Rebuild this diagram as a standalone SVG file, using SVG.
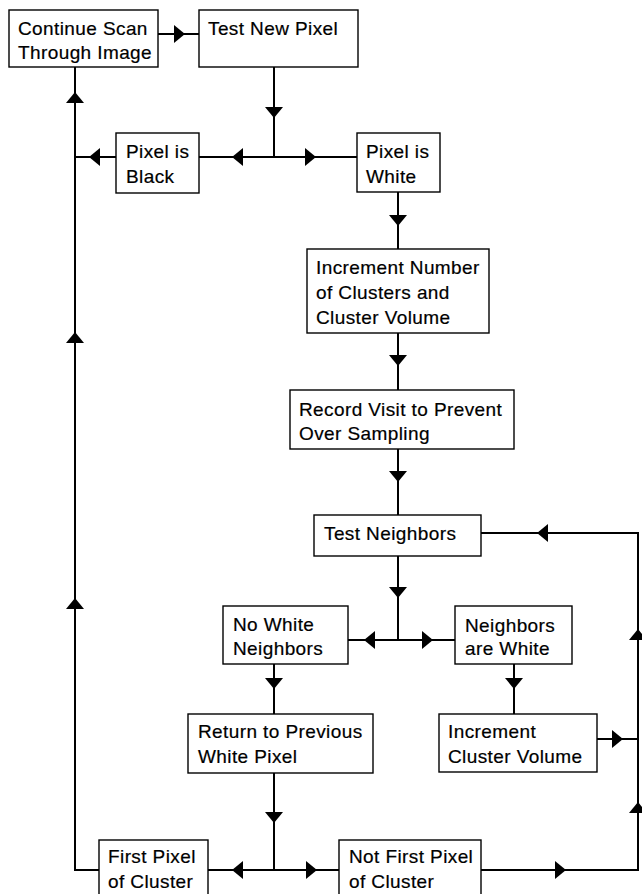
<svg xmlns="http://www.w3.org/2000/svg" width="642" height="894" viewBox="0 0 642 894">
<style>
.box{fill:#fff;stroke:#000;stroke-width:1.4}
.t{font-family:"Liberation Sans",Arial,Helvetica,sans-serif;font-size:19px;letter-spacing:0.4px;fill:#000;stroke:#000;stroke-width:0.2}
.ln{fill:none;stroke:#000;stroke-width:2}
.ar{fill:#000;stroke:none}
</style>
<rect width="642" height="894" fill="#fff"/>
<g id="connectors">
<path class="ln" d="M158,34H199"/>
<path class="ln" d="M274,67V157"/>
<path class="ln" d="M199,157H357"/>
<path class="ln" d="M116,157H75"/>
<path class="ln" d="M99,870H75V67"/>
<path class="ln" d="M398,192V249"/>
<path class="ln" d="M398,333V390"/>
<path class="ln" d="M398,449V515"/>
<path class="ln" d="M398,556V640"/>
<path class="ln" d="M348,640H455"/>
<path class="ln" d="M514,664V714"/>
<path class="ln" d="M274,664V714"/>
<path class="ln" d="M274,773V870"/>
<path class="ln" d="M208,870H339"/>
<path class="ln" d="M481,870H638V533H481"/>
<path class="ln" d="M597,739H638"/>
<!-- arrowheads -->
<path class="ar" d="M174,25L185,34L174,43Z"/>
<path class="ar" d="M265,107L283,107L274,118Z"/>
<path class="ar" d="M243,148L232,157L243,166Z"/>
<path class="ar" d="M305,148L316,157L305,166Z"/>
<path class="ar" d="M100,148L89,157L100,166Z"/>
<path class="ar" d="M66,103L84,103L75,92Z"/>
<path class="ar" d="M66,343L84,343L75,332Z"/>
<path class="ar" d="M66,609L84,609L75,598Z"/>
<path class="ar" d="M389,215L407,215L398,226Z"/>
<path class="ar" d="M389,355L407,355L398,366Z"/>
<path class="ar" d="M389,471L407,471L398,482Z"/>
<path class="ar" d="M389,587L407,587L398,598Z"/>
<path class="ar" d="M375,631L364,640L375,649Z"/>
<path class="ar" d="M422,631L433,640L422,649Z"/>
<path class="ar" d="M548,524L537,533L548,542Z"/>
<path class="ar" d="M629,640L647,640L638,629Z"/>
<path class="ar" d="M629,813L647,813L638,802Z"/>
<path class="ar" d="M505,678L523,678L514,689Z"/>
<path class="ar" d="M265,678L283,678L274,689Z"/>
<path class="ar" d="M612,730L623,739L612,748Z"/>
<path class="ar" d="M265,812L283,812L274,823Z"/>
<path class="ar" d="M243,861L232,870L243,879Z"/>
<path class="ar" d="M306,861L317,870L306,879Z"/>
<path class="ar" d="M555,861L566,870L555,879Z"/>
</g>
<g id="continue-scan"><rect class="box" x="9" y="10" width="149" height="57"/><text class="t" x="18" y="35">Continue Scan</text><text class="t" x="18" y="59">Through Image</text></g>
<g id="test-new-pixel"><rect class="box" x="199" y="10" width="159" height="57"/><text class="t" x="208" y="35">Test New Pixel</text></g>
<g id="pixel-black"><rect class="box" x="116" y="133" width="83" height="60"/><text class="t" x="126" y="158">Pixel is</text><text class="t" x="126" y="183">Black</text></g>
<g id="pixel-white"><rect class="box" x="357" y="133" width="83" height="59"/><text class="t" x="366" y="158">Pixel is</text><text class="t" x="366" y="183">White</text></g>
<g id="increment-number"><rect class="box" x="307" y="249" width="182" height="84"/><text class="t" x="316" y="274">Increment Number</text><text class="t" x="316" y="299">of Clusters and</text><text class="t" x="316" y="324">Cluster Volume</text></g>
<g id="record-visit"><rect class="box" x="290" y="390" width="224" height="59"/><text class="t" x="299" y="416">Record Visit to Prevent</text><text class="t" x="299" y="440">Over Sampling</text></g>
<g id="test-neighbors"><rect class="box" x="314" y="515" width="167" height="41"/><text class="t" x="324" y="540">Test Neighbors</text></g>
<g id="no-white-neighbors"><rect class="box" x="223" y="606" width="125" height="58"/><text class="t" x="233" y="631">No White</text><text class="t" x="233" y="655">Neighbors</text></g>
<g id="neighbors-white"><rect class="box" x="455" y="606" width="117" height="58"/><text class="t" x="465" y="632">Neighbors</text><text class="t" x="465" y="655">are White</text></g>
<g id="return-previous"><rect class="box" x="188" y="714" width="185" height="59"/><text class="t" x="198" y="738">Return to Previous</text><text class="t" x="198" y="763">White Pixel</text></g>
<g id="increment-cluster-volume"><rect class="box" x="439" y="714" width="158" height="58"/><text class="t" x="448" y="738">Increment</text><text class="t" x="448" y="763">Cluster Volume</text></g>
<g id="first-pixel"><rect class="box" x="99" y="840" width="109" height="62"/><text class="t" x="108" y="863">First Pixel</text><text class="t" x="108" y="888">of Cluster</text></g>
<g id="not-first-pixel"><rect class="box" x="339" y="840" width="142" height="62"/><text class="t" x="349" y="863">Not First Pixel</text><text class="t" x="349" y="888">of Cluster</text></g>
</svg>
